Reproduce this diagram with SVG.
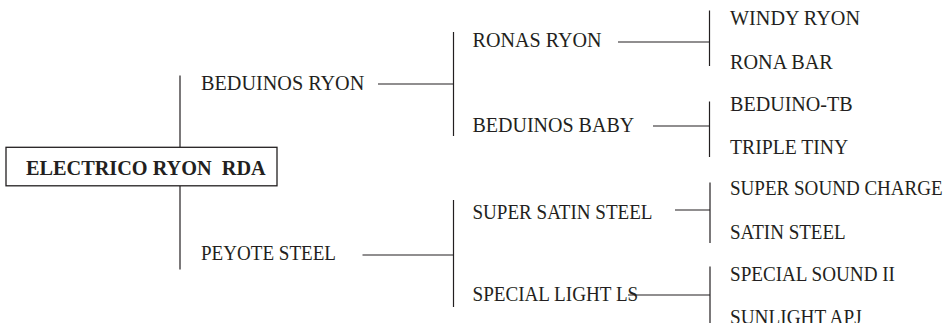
<svg xmlns="http://www.w3.org/2000/svg" width="946" height="323" viewBox="0 0 946 323">
<style>
text{font-family:"Liberation Serif","Times New Roman",Times,serif;font-size:20px;fill:#231f20}
.b{font-weight:bold;white-space:pre}
.c line{stroke:#231f20;stroke-width:1.2}
.box{fill:#fff;stroke:#231f20;stroke-width:1.3}
</style>
<rect width="946" height="323" fill="#fff"/>
<g class="c" id="connectors">
<line x1="180" y1="75.5" x2="180" y2="147"/>
<line x1="180" y1="186" x2="180" y2="269.5"/>
<line x1="378" y1="84" x2="453.5" y2="84"/>
<line x1="453.5" y1="32" x2="453.5" y2="136"/>
<line x1="362.5" y1="255" x2="453.5" y2="255"/>
<line x1="453.5" y1="200" x2="453.5" y2="307"/>
<line x1="618" y1="42" x2="709.5" y2="42"/>
<line x1="709.5" y1="10.5" x2="709.5" y2="66"/>
<line x1="653" y1="126" x2="709.5" y2="126"/>
<line x1="709.5" y1="101.5" x2="709.5" y2="157"/>
<line x1="675" y1="210" x2="710" y2="210"/>
<line x1="710" y1="182.5" x2="710" y2="243"/>
<line x1="628" y1="295" x2="710" y2="295"/>
<line x1="710" y1="266.5" x2="710" y2="323"/>
</g>
<g id="root"><rect class="box" x="6" y="147.3" width="271" height="38.5"/><text class="b" x="26" y="175" textLength="239.7" lengthAdjust="spacingAndGlyphs">ELECTRICO RYON  RDA</text></g>
<g id="beduinos-ryon"><text x="201" y="89.5" textLength="163.3" lengthAdjust="spacingAndGlyphs">BEDUINOS RYON</text></g>
<g id="peyote-steel"><text x="201" y="260" textLength="135" lengthAdjust="spacingAndGlyphs">PEYOTE STEEL</text></g>
<g id="ronas-ryon"><text x="472.5" y="47" textLength="129" lengthAdjust="spacingAndGlyphs">RONAS RYON</text></g>
<g id="beduinos-baby"><text x="472.5" y="131.5" textLength="161.7" lengthAdjust="spacingAndGlyphs">BEDUINOS BABY</text></g>
<g id="super-satin-steel"><text x="472.5" y="218.5" textLength="180" lengthAdjust="spacingAndGlyphs">SUPER SATIN STEEL</text></g>
<g id="special-light-ls"><text x="472.5" y="300.5" textLength="165.7" lengthAdjust="spacingAndGlyphs">SPECIAL LIGHT LS</text></g>
<g id="windy-ryon"><text x="730" y="25" textLength="130" lengthAdjust="spacingAndGlyphs">WINDY RYON</text></g>
<g id="rona-bar"><text x="730" y="68.5" textLength="102.7" lengthAdjust="spacingAndGlyphs">RONA BAR</text></g>
<g id="beduino-tb"><text x="730" y="110.5" textLength="122.7" lengthAdjust="spacingAndGlyphs">BEDUINO-TB</text></g>
<g id="triple-tiny"><text x="730" y="153.5" textLength="118.3" lengthAdjust="spacingAndGlyphs">TRIPLE TINY</text></g>
<g id="super-sound-charge"><text x="730" y="195" textLength="212.7" lengthAdjust="spacingAndGlyphs">SUPER SOUND CHARGE</text></g>
<g id="satin-steel"><text x="730" y="238.5" textLength="115.7" lengthAdjust="spacingAndGlyphs">SATIN STEEL</text></g>
<g id="special-sound-ii"><text x="730" y="280.5" textLength="165" lengthAdjust="spacingAndGlyphs">SPECIAL SOUND II</text></g>
<g id="sunlight-apj"><text x="730" y="324" textLength="131.7" lengthAdjust="spacingAndGlyphs">SUNLIGHT APJ</text></g>
</svg>
